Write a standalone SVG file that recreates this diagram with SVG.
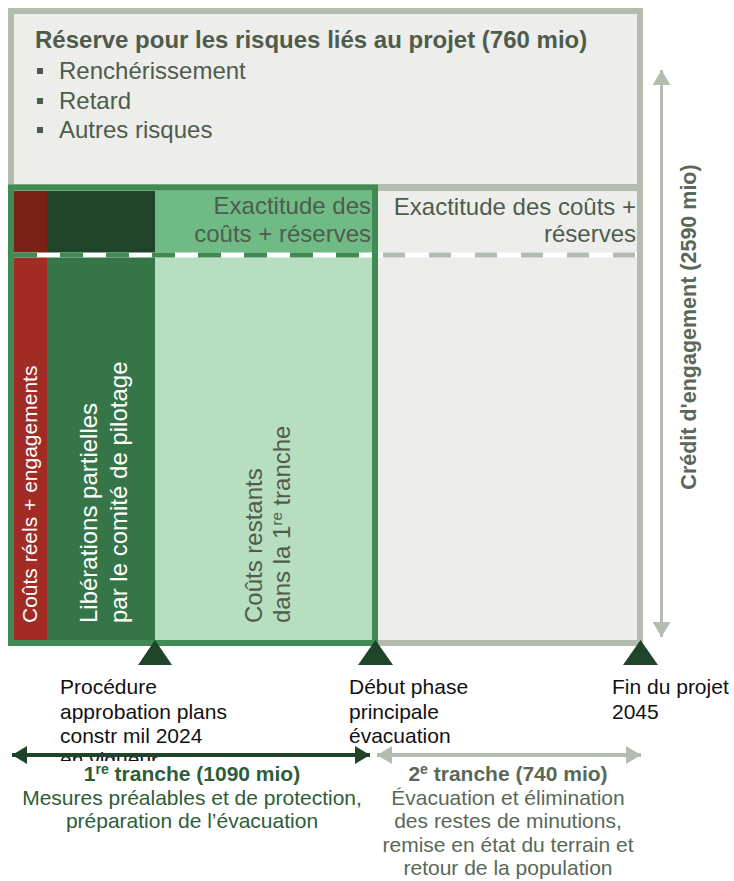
<svg xmlns="http://www.w3.org/2000/svg" width="734" height="881" viewBox="0 0 734 881">
  <style>
    text { font-family: "Liberation Sans", Arial, sans-serif; }
    .gray-t { fill: #4f5c4c; font-size: 24px; }
    .bold { font-weight: bold; }
    .white-t { fill: #ffffff; font-size: 24px; }
    .lbl { fill: #111111; font-size: 21px; }
    .cap1 { fill: #2d5e38; font-size: 21px; text-anchor: middle; }
    .cap2 { fill: #5a6857; font-size: 21px; text-anchor: middle; }
    .marker-tri { fill: #1f442a; }
  </style>
  <defs>
    <marker id="headGray" markerUnits="userSpaceOnUse" markerWidth="16" markerHeight="18" refX="15" refY="9" orient="auto-start-reverse">
      <path d="M0,0 L15,9 L0,18 z" fill="#b3bcaf"/>
    </marker>
    <marker id="headGreen" markerUnits="userSpaceOnUse" markerWidth="16" markerHeight="18" refX="15" refY="9" orient="auto-start-reverse">
      <path d="M0,0 L15,9 L0,18 z" fill="#1f442a"/>
    </marker>
  </defs>

  <!-- Outer frame: total commitment credit, with the risk reserve on top -->
  <g id="frame">
    <rect x="11" y="11" width="629" height="632" fill="#edeeeb" stroke="#b3bcaf" stroke-width="6"/>
    <line x1="8" y1="187.5" x2="643" y2="187.5" stroke="#b3bcaf" stroke-width="7"/>
  </g>

  <!-- Risk reserve -->
  <g id="reserve">
    <text x="35" y="48" class="gray-t bold">Réserve pour les risques liés au projet (760 mio)</text>
    <rect x="37" y="68" width="6" height="6" fill="#4f5c4c"/>
    <text x="59" y="79" class="gray-t">Renchérissement</text>
    <rect x="37" y="98" width="6" height="6" fill="#4f5c4c"/>
    <text x="59" y="109" class="gray-t">Retard</text>
    <rect x="37" y="127" width="6" height="6" fill="#4f5c4c"/>
    <text x="59" y="138" class="gray-t">Autres risques</text>
  </g>

  <!-- First tranche columns -->
  <g id="col-actual">
    <rect x="14" y="191" width="33" height="62" fill="#7b2019"/>
    <rect x="14" y="253" width="33" height="387" fill="#a22b25"/>
    <text transform="translate(37 623) rotate(-90)" fill="#ffffff" font-size="21">Coûts réels + engagements</text>
  </g>
  <g id="col-released">
    <rect x="47" y="191" width="108" height="62" fill="#1f442a"/>
    <rect x="47" y="253" width="108" height="387" fill="#367548"/>
    <text transform="translate(97 623) rotate(-90)" class="white-t">Libérations partielles</text>
    <text transform="translate(127 623) rotate(-90)" class="white-t">par le comité de pilotage</text>
  </g>
  <g id="col-remaining">
    <rect x="155" y="191" width="217" height="62" fill="#70bb85"/>
    <rect x="155" y="253" width="217" height="387" fill="#b7dec1"/>
    <text x="371" y="214" class="gray-t" text-anchor="end">Exactitude des</text>
    <text x="371" y="242" class="gray-t" text-anchor="end">coûts + réserves</text>
    <text transform="translate(262 623) rotate(-90)" class="gray-t">Coûts restants</text>
    <text transform="translate(290 623) rotate(-90)" class="gray-t">dans la 1<tspan font-size="15" dy="-8">re</tspan><tspan dy="8"> tranche</tspan></text>
  </g>

  <!-- Second tranche -->
  <g id="tranche2-area">
    <text x="636" y="215" class="gray-t" text-anchor="end">Exactitude des coûts +</text>
    <text x="636" y="242" class="gray-t" text-anchor="end">réserves</text>
  </g>

  <!-- Accuracy limit lines -->
  <g id="accuracy-lines">
    <line x1="14" y1="255" x2="372" y2="255" stroke="#ffffff" stroke-width="5"/>
    <line x1="14" y1="255" x2="372" y2="255" stroke="#3f8b53" stroke-width="5" stroke-dasharray="23 23"/>
    <line x1="378" y1="255" x2="637" y2="255" stroke="#ffffff" stroke-width="5"/>
    <line x1="378" y1="255" x2="637" y2="255" stroke="#b3bcaf" stroke-width="5" stroke-dasharray="22 24" stroke-dashoffset="41"/>
  </g>

  <!-- First tranche outline -->
  <g id="tranche1-frame">
    <rect x="11" y="187.5" width="364" height="455.5" fill="none" stroke="#3f8b53" stroke-width="6"/>
  </g>

  <!-- Milestones -->
  <g id="milestone-approval">
    <polygon points="155,640 172,665 138,665" class="marker-tri"/>
    <text x="60" y="694" class="lbl">Procédure</text>
    <text x="60" y="718.5" class="lbl">approbation plans</text>
    <text x="60" y="743" class="lbl">constr mil 2024</text>
    <text x="60" y="767" class="lbl">en vigueur</text>
  </g>
  <g id="milestone-evacuation">
    <polygon points="375.5,640 393,665 358,665" class="marker-tri"/>
    <text x="349" y="694" class="lbl">Début phase</text>
    <text x="349" y="718.5" class="lbl">principale</text>
    <text x="349" y="743" class="lbl">évacuation</text>
  </g>
  <g id="milestone-end">
    <polygon points="640.5,640 658,665 623,665" class="marker-tri"/>
    <text x="612" y="694" class="lbl">Fin du projet</text>
    <text x="612" y="718.5" class="lbl">2045</text>
  </g>

  <!-- Tranche captions -->
  <g id="caption-tranche1">
    <rect x="14" y="761" width="356" height="76" fill="#ffffff"/>
    <text x="192" y="781" class="cap1 bold">1<tspan font-size="14" dy="-7">re</tspan><tspan dy="7"> tranche (1090 mio)</tspan></text>
    <text x="192" y="805" class="cap1">Mesures préalables et de protection,</text>
    <text x="192" y="828" class="cap1">préparation de l’évacuation</text>
  </g>
  <g id="caption-tranche2">
    <text x="508" y="781" class="cap2 bold">2<tspan font-size="14" dy="-7">e</tspan><tspan dy="7"> tranche (740 mio)</tspan></text>
    <text x="508" y="805" class="cap2">Évacuation et élimination</text>
    <text x="508" y="828" class="cap2">des restes de minutions,</text>
    <text x="508" y="852" class="cap2">remise en état du terrain et</text>
    <text x="508" y="875" class="cap2">retour de la population</text>
  </g>

  <!-- Credit label -->
  <g id="credit-label">
    <text transform="translate(696 327) rotate(-90)" fill="#5a6857" font-size="21.5" font-weight="bold" text-anchor="middle">Crédit d'engagement (2590 mio)</text>
  </g>

  <!-- Span arrows -->
  <g id="connectors">
    <line x1="661.5" y1="70" x2="661.5" y2="637" stroke="#b3bcaf" stroke-width="3" marker-start="url(#headGray)" marker-end="url(#headGray)"/>
    <line x1="12" y1="755" x2="370" y2="755" stroke="#1f442a" stroke-width="4" marker-start="url(#headGreen)" marker-end="url(#headGreen)"/>
    <line x1="377" y1="755" x2="641" y2="755" stroke="#b3bcaf" stroke-width="4" marker-start="url(#headGray)" marker-end="url(#headGray)"/>
  </g>
</svg>
